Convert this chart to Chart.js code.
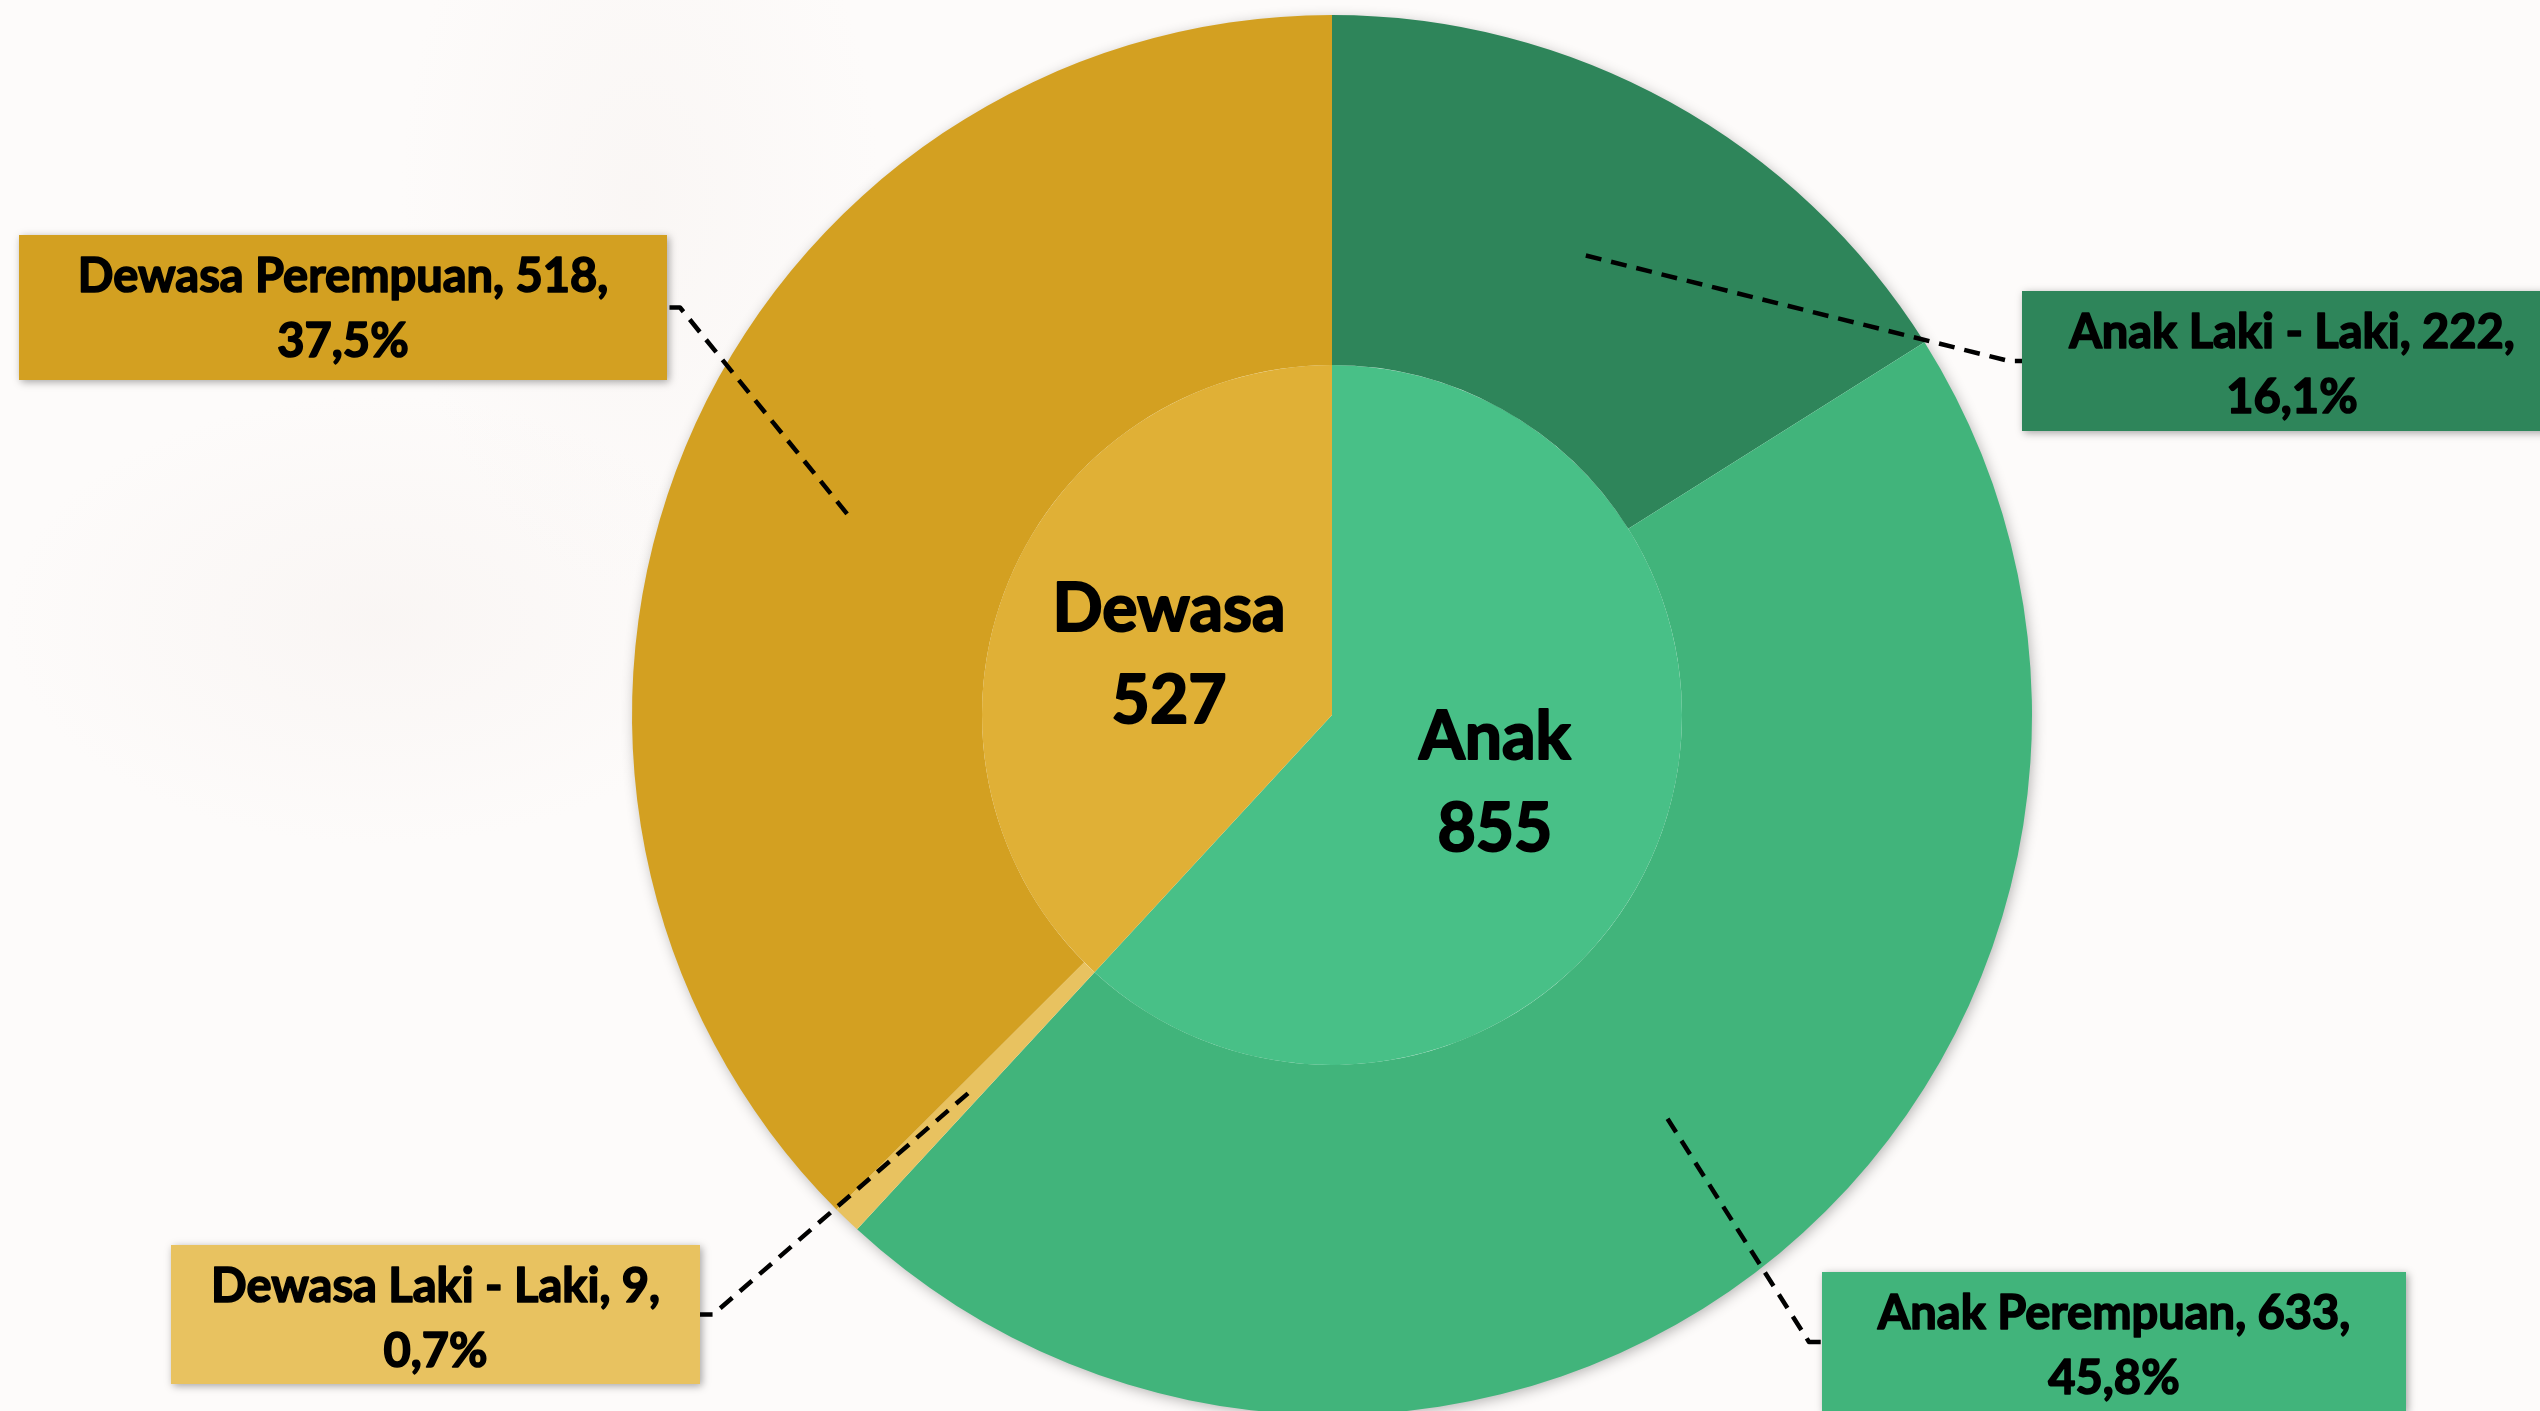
<!DOCTYPE html>
<html lang="id">
<head>
    <meta charset="UTF-8">
    <title>Dewasa dan Anak</title>
    <script src="https://cdn.jsdelivr.net/npm/chart.js"></script>
<style>
  html, body { margin: 0; padding: 0; overflow: hidden; }
  body {
    width: 2540px; height: 1411px;
    background:
      radial-gradient(ellipse 500px 300px at 380px 620px, rgba(243,236,233,0.35), rgba(255,255,255,0) 75%),
      radial-gradient(ellipse 320px 520px at 640px 200px, rgba(244,238,235,0.35), rgba(255,255,255,0) 75%),
      #fdfbfa;
  }
  #wrap { width: 2540px; height: 1430px; position: relative; }
</style>
</head>
<body>
<div id="wrap">
    <canvas id="chart1"></canvas>
</div>
<script>
// inner ring
var kelompok = ['Anak', 'Dewasa'];
var kelompokJumlah = [855, 527];
var kelompokWarna = ['#48C087', '#E0B036'];

// outer ring
var rincian = ['Anak Laki - Laki', 'Anak Perempuan', 'Dewasa Laki - Laki', 'Dewasa Perempuan'];
var rincianJumlah = [222, 633, 9, 518];
var rincianWarna = ['#2E855A', '#41B47B', '#E8C260', '#D3A021'];

// label boxes for the outer ring: x, y, w, h, side the leader line enters from
var kotak = [
    { x: 2022, y: 291, w: 540, h: 140, side: 'left' },
    { x: 1822, y: 1272, w: 584, h: 140, side: 'left' },
    { x: 171, y: 1245, w: 529, h: 139, side: 'right' },
    { x: 19, y: 235, w: 648, h: 145, side: 'right' }
];

var total = rincianJumlah.reduce((a, b) => a + b, 0);
function persen(v) {
    return (v / total * 100).toFixed(1).replace('.', ',') + '%';
}

// text a bit heavier than Lato bold, closer to the original
function tebal(ctx, txt, x, y, w) {
    ctx.lineWidth = w;
    ctx.lineJoin = 'round';
    ctx.strokeStyle = '#000';
    ctx.strokeText(txt, x, y);
    ctx.fillText(txt, x, y);
}

var labelPlugin = {
    id: 'labelPlugin',
    beforeDatasetsDraw(chart) {
        // soft shadow under the whole disc
        var arc = chart.getDatasetMeta(0).data[0];
        var ctx = chart.ctx;
        ctx.save();
        ctx.shadowColor = 'rgba(0,0,0,0.30)';
        ctx.shadowBlur = 14;
        ctx.shadowOffsetX = 2;
        ctx.shadowOffsetY = 3;
        ctx.fillStyle = '#ffffff';
        ctx.beginPath();
        ctx.arc(arc.x, arc.y, arc.outerRadius - 1, 0, Math.PI * 2);
        ctx.fill();
        ctx.restore();
    },
    afterDatasetsDraw(chart) {
        var ctx = chart.ctx;
        ctx.save();

        // center labels (inner pie)
        var inner = chart.getDatasetMeta(1).data;
        ctx.fillStyle = '#000';
        ctx.textAlign = 'center';
        ctx.textBaseline = 'alphabetic';
        ctx.font = 'bold 66px Lato';
        inner.forEach(function (el, i) {
            var p = el.tooltipPosition();
            tebal(ctx, kelompok[i], p.x, p.y - 20, 2);
            tebal(ctx, String(kelompokJumlah[i]), p.x, p.y + 72, 2);
        });

        // outer labels with dashed leader lines
        var outer = chart.getDatasetMeta(0).data;
        outer.forEach(function (el, i) {
            var p = el.tooltipPosition();
            var b = kotak[i];
            var midY = b.y + b.h / 2;
            var ex = b.side === 'left' ? b.x : b.x + b.w;
            var hx = b.side === 'left' ? ex - 13 : ex + 13;

            ctx.setLineDash([16, 10]);
            ctx.lineWidth = 4.5;
            ctx.strokeStyle = '#000';
            ctx.beginPath();
            ctx.moveTo(p.x, p.y);
            ctx.lineTo(hx, midY);
            ctx.lineTo(ex, midY);
            ctx.stroke();
            ctx.setLineDash([]);

            ctx.save();
            ctx.shadowColor = 'rgba(0,0,0,0.35)';
            ctx.shadowBlur = 8;
            ctx.shadowOffsetX = 2;
            ctx.shadowOffsetY = 2;
            ctx.fillStyle = rincianWarna[i];
            ctx.fillRect(b.x, b.y, b.w, b.h);
            ctx.restore();

            var tx = b.x + b.w / 2;
            ctx.fillStyle = '#000';
            ctx.font = 'bold 47px Lato';
            tebal(ctx, rincian[i] + ', ' + rincianJumlah[i] + ',', tx, b.y + 57, 1.6);
            tebal(ctx, persen(rincianJumlah[i]), tx, b.y + 122, 1.6);
        });
        ctx.restore();
    }
};

var ctx = document.getElementById('chart1').getContext('2d');
var myChart = new Chart(ctx, {
    type: 'doughnut',
    data: {
        labels: rincian,
        datasets: [
            {
                label: 'Rincian',
                data: rincianJumlah,
                backgroundColor: rincianWarna,
                borderWidth: 0,
                hoverOffset: 0
            },
            {
                label: 'Kelompok',
                data: kelompokJumlah,
                backgroundColor: kelompokWarna,
                borderWidth: 0,
                hoverOffset: 0
            }
        ]
    },
    options: {
        responsive: true,
        maintainAspectRatio: false,
        animation: false,
        events: [],
        cutout: 0,
        layout: { padding: { top: 15, bottom: 15, left: 124, right: 0 } },
        plugins: {
            legend: { display: false },
            tooltip: { enabled: false }
        }
    },
    plugins: [labelPlugin]
});
</script>
</body>
</html>
